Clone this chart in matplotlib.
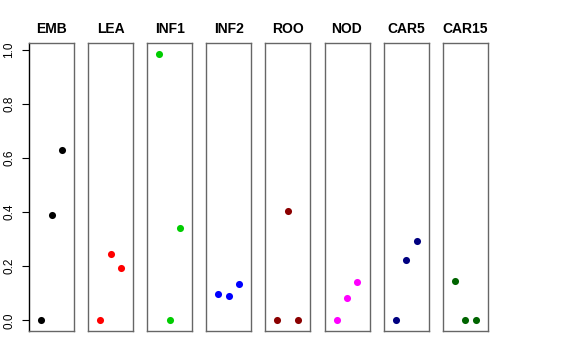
import matplotlib
matplotlib.use("Agg")
import matplotlib.pyplot as plt

plt.rcParams['font.family'] = ['Liberation Sans', 'DejaVu Sans']

tissues = ["EMB", "LEA", "INF1", "INF2", "ROO", "NOD", "CAR5", "CAR15"]
colors = ["black", "red", "#00CD00", "blue", "#8B0000", "magenta", "#000080", "#006400"]
values = [
    [0.0, 0.389, 0.63],
    [0.0, 0.244, 0.193],
    [0.985, 0.0, 0.341],
    [0.096, 0.089, 0.134],
    [0.0, 0.404, 0.0],
    [0.0, 0.081, 0.141],
    [0.0, 0.223, 0.293],
    [0.144, 0.0, 0.0],
]
yticks = [0.0, 0.2, 0.4, 0.6, 0.8, 1.0]

fig = plt.figure(figsize=(5.76, 3.6), dpi=100)
W, H = 576, 360
left0, pw, step = 29, 45, 59.1
top, bottom = 43, 331

for i, (name, col, vals) in enumerate(zip(tissues, colors, values)):
    x0 = left0 + i * step
    ax = fig.add_axes([x0 / W, 1 - bottom / H, pw / W, (bottom - top) / H])
    ax.scatter([1, 2, 3], vals, s=26, color=col, zorder=3, linewidths=0)
    ax.set_xlim(-0.15, 4.15)
    ax.set_ylim(-0.0394, 1.0244)
    ax.set_xticks([])
    for sp in ax.spines.values():
        sp.set_color("#666666")
        sp.set_linewidth(1.0)
    ax.set_title(name, fontsize=10, fontweight="bold", pad=7)
    if i == 0:
        ax.spines["left"].set_color("black")
        ax.set_yticks(yticks)
        ax.set_yticklabels(["%.1f" % t for t in yticks])
        ax.tick_params(axis="y", length=5, pad=5, labelsize=8.5)
        plt.setp(ax.get_yticklabels(), rotation=90, ha="center", va="bottom",
                 rotation_mode="anchor")
    else:
        ax.set_yticks([])

fig.savefig("out.png", dpi=100)
